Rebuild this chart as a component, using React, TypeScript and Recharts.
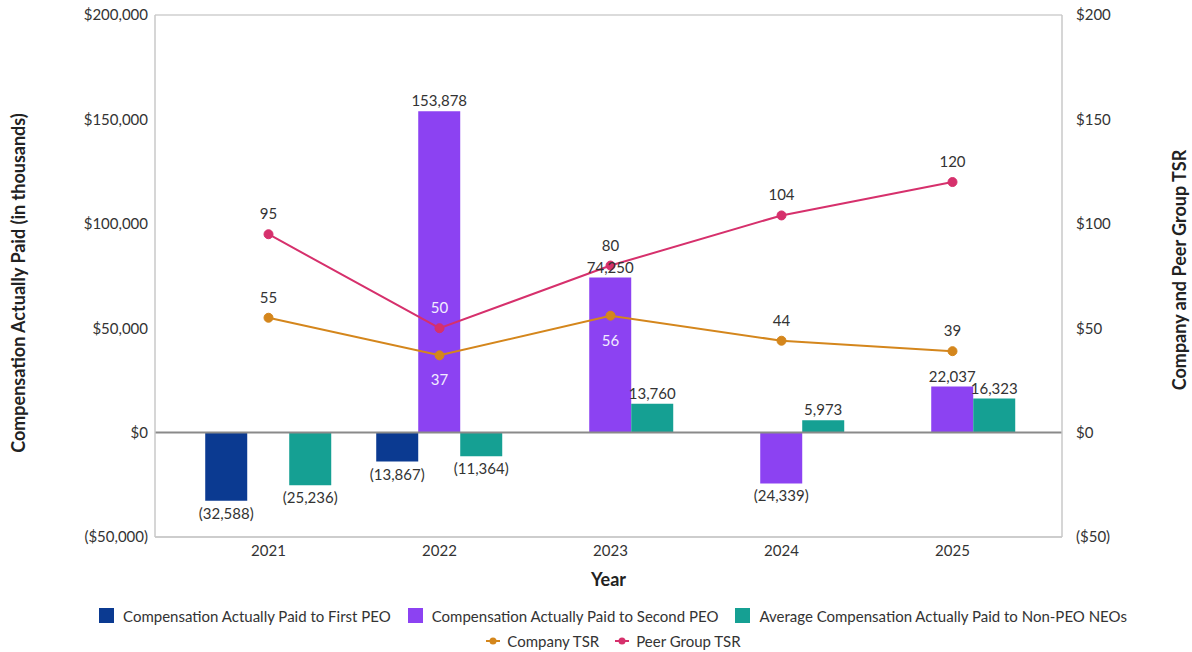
import React from 'react';
import {
  ComposedChart,
  Bar,
  Line,
  XAxis,
  YAxis,
  CartesianGrid,
  Legend,
  LabelList,
  Label,
  ReferenceLine,
} from 'recharts';

// Fiscal years on the category axis
const years = ['2021', '2022', '2023', '2024', '2025'];

// Compensation actually paid (in thousands of dollars)
const firstPeo: (number | null)[] = [-32588, -13867, null, null, null];
const secondPeo: (number | null)[] = [null, 153878, 74250, -24339, 22037];
const nonPeoNeos: (number | null)[] = [-25236, -11364, 13760, 5973, 16323];

// Total shareholder return values (right axis)
const companyTsr = [55, 37, 56, 44, 39];
const peerTsr = [95, 50, 80, 104, 120];

// Axis ticks
const leftTicks = [-50000, 0, 50000, 100000, 150000, 200000];
const rightTicks = [-50, 0, 50, 100, 150, 200];

const data = years.map((year, i) => ({
  year,
  firstPeo: firstPeo[i],
  secondPeo: secondPeo[i],
  nonPeoNeos: nonPeoNeos[i],
  companyTsr: companyTsr[i],
  peerTsr: peerTsr[i],
}));

const COLORS = {
  firstPeo: '#0B3A91',
  secondPeo: '#8C42F2',
  nonPeoNeos: '#15A093',
  companyTsr: '#D4861C',
  peerTsr: '#D6306C',
};

const FONT = 'Lato, "Open Sans", sans-serif';
const TEXT = '#333333';
const SMALL = 15;
const TITLE = 18;

// TSR label placement: labels sitting on a purple bar are drawn in white
const companyLabelBelow = [false, true, true, false, false];
const companyLabelLight = [false, true, true, false, false];
const peerLabelLight = [false, true, false, false, false];

const money = (v: number) => {
  const s = Math.abs(v).toLocaleString('en-US');
  return v < 0 ? `($${s})` : `$${s}`;
};

const barValue = (v: number) => {
  const s = Math.abs(v).toLocaleString('en-US');
  return v < 0 ? `(${s})` : s;
};

const BarValueLabel = (props: any) => {
  const { x, y, width, height, value } = props;
  if (value === null || value === undefined) return null;
  const top = Math.min(y, y + height);
  const bottom = Math.max(y, y + height);
  const cx = x + width / 2;
  const ty = value < 0 ? bottom + 18 : top - 5;
  return (
    <text x={cx} y={ty} textAnchor="middle" fontSize={SMALL} fontFamily={FONT} fill={TEXT}>
      {barValue(value)}
    </text>
  );
};

const makeTsrLabel = (below: boolean[], light: boolean[]) => (props: any) => {
  const { x, y, value, index } = props;
  const isBelow = below[index];
  return (
    <text
      x={x}
      y={isBelow ? y + 30 : y - 15}
      textAnchor="middle"
      fontSize={SMALL}
      fontFamily={FONT}
      fill={light[index] ? '#F2ECFF' : TEXT}
    >
      {value}
    </text>
  );
};

const renderLegend = () => {
  const barItems = [
    { key: 'firstPeo', label: 'Compensation Actually Paid to First PEO' },
    { key: 'secondPeo', label: 'Compensation Actually Paid to Second PEO' },
    { key: 'nonPeoNeos', label: 'Average Compensation Actually Paid to Non-PEO NEOs' },
  ];
  const lineItems = [
    { key: 'companyTsr', label: 'Company TSR' },
    { key: 'peerTsr', label: 'Peer Group TSR' },
  ];
  const rowStyle: React.CSSProperties = {
    display: 'flex',
    justifyContent: 'center',
    alignItems: 'center',
    height: 25,
    gap: 17,
  };
  return (
    <div style={{ fontFamily: FONT, fontSize: SMALL, color: TEXT, paddingTop: 6, paddingLeft: 34 }}>
      <div style={rowStyle}>
        {barItems.map((it) => (
          <div key={it.key} style={{ display: 'flex', alignItems: 'center' }}>
            <span
              style={{
                display: 'inline-block',
                width: 15,
                height: 15,
                background: (COLORS as any)[it.key],
                marginRight: 9,
              }}
            />
            <span>{it.label}</span>
          </div>
        ))}
      </div>
      <div style={{ ...rowStyle, gap: 15 }}>
        {lineItems.map((it) => (
          <div key={it.key} style={{ display: 'flex', alignItems: 'center' }}>
            <svg width={16} height={10} style={{ marginRight: 6 }}>
              <line x1={1} y1={5} x2={15} y2={5} stroke={(COLORS as any)[it.key]} strokeWidth={2} />
              <circle cx={8} cy={5} r={3.5} fill={(COLORS as any)[it.key]} />
            </svg>
            <span>{it.label}</span>
          </div>
        ))}
      </div>
    </div>
  );
};

const axisTitle = (text: string, cx: number, cy: number) => () => (
  <text
    x={cx}
    y={cy}
    transform={`rotate(-90, ${cx}, ${cy})`}
    textAnchor="middle"
    dominantBaseline="central"
    fontSize={TITLE}
    fontWeight={700}
    fontFamily={FONT}
    fill="#222222"
  >
    {text}
  </text>
);

export default function App() {
  return (
    <div style={{ position: 'absolute', left: 0, top: 0, background: '#fff' }}>
      <ComposedChart
        width={1192}
        height={652}
        data={data}
        margin={{ top: 15, right: 0, bottom: 0, left: 0 }}
        barCategoryGap="13%"
        barGap={0}
      >
        <CartesianGrid vertical={false} stroke="#CFCFCF" strokeWidth={1.5} />
        <XAxis
          dataKey="year"
          height={60}
          tickLine={false}
          axisLine={{ stroke: '#C8C8C8', strokeWidth: 1.5 }}
          padding={{ left: 28, right: 24 }}
          tick={{ fontSize: SMALL, fontFamily: FONT, fill: TEXT }}
        >
          <Label
            value="Year"
            position="insideBottom"
            offset={11}
            style={{ fontSize: TITLE, fontWeight: 700, fontFamily: FONT, fill: '#222222' }}
          />
        </XAxis>
        <YAxis
          yAxisId="left"
          width={155}
          domain={[-50000, 200000]}
          ticks={leftTicks}
          interval={0}
          tickFormatter={money}
          tickLine={false}
          tickMargin={1}
          axisLine={{ stroke: '#C8C8C8', strokeWidth: 1.5 }}
          tick={{ fontSize: SMALL, fontFamily: FONT, fill: TEXT }}
        >
          <Label content={axisTitle('Compensation Actually Paid (in thousands)', 18, 283)} />
        </YAxis>
        <YAxis
          yAxisId="right"
          orientation="right"
          width={130}
          domain={[-50, 200]}
          ticks={rightTicks}
          interval={0}
          tickFormatter={money}
          tickLine={false}
          tickMargin={8}
          axisLine={{ stroke: '#C8C8C8', strokeWidth: 1.5 }}
          tick={{ fontSize: SMALL, fontFamily: FONT, fill: TEXT, textAnchor: 'start' }}
        >
          <Label content={axisTitle('Company and Peer Group TSR', 1179, 270)} />
        </YAxis>
        <ReferenceLine yAxisId="left" y={0} stroke="#8A8A8A" strokeWidth={2} />
        <Legend verticalAlign="bottom" height={55} content={renderLegend} />
        <Bar
          yAxisId="left"
          dataKey="firstPeo"
          name="Compensation Actually Paid to First PEO"
          fill={COLORS.firstPeo}
          isAnimationActive={false}
        >
          <LabelList dataKey="firstPeo" content={BarValueLabel} />
        </Bar>
        <Bar
          yAxisId="left"
          dataKey="secondPeo"
          name="Compensation Actually Paid to Second PEO"
          fill={COLORS.secondPeo}
          isAnimationActive={false}
        >
          <LabelList dataKey="secondPeo" content={BarValueLabel} />
        </Bar>
        <Bar
          yAxisId="left"
          dataKey="nonPeoNeos"
          name="Average Compensation Actually Paid to Non-PEO NEOs"
          fill={COLORS.nonPeoNeos}
          isAnimationActive={false}
        >
          <LabelList dataKey="nonPeoNeos" content={BarValueLabel} />
        </Bar>
        <Line
          yAxisId="right"
          dataKey="companyTsr"
          name="Company TSR"
          stroke={COLORS.companyTsr}
          strokeWidth={2}
          dot={{ r: 4.5, fill: COLORS.companyTsr, stroke: COLORS.companyTsr, strokeWidth: 1 }}
          activeDot={false}
          isAnimationActive={false}
        >
          <LabelList dataKey="companyTsr" content={makeTsrLabel(companyLabelBelow, companyLabelLight)} />
        </Line>
        <Line
          yAxisId="right"
          dataKey="peerTsr"
          name="Peer Group TSR"
          stroke={COLORS.peerTsr}
          strokeWidth={2}
          dot={{ r: 4.5, fill: COLORS.peerTsr, stroke: COLORS.peerTsr, strokeWidth: 1 }}
          activeDot={false}
          isAnimationActive={false}
        >
          <LabelList
            dataKey="peerTsr"
            content={makeTsrLabel([false, false, false, false, false], peerLabelLight)}
          />
        </Line>
      </ComposedChart>
    </div>
  );
}
